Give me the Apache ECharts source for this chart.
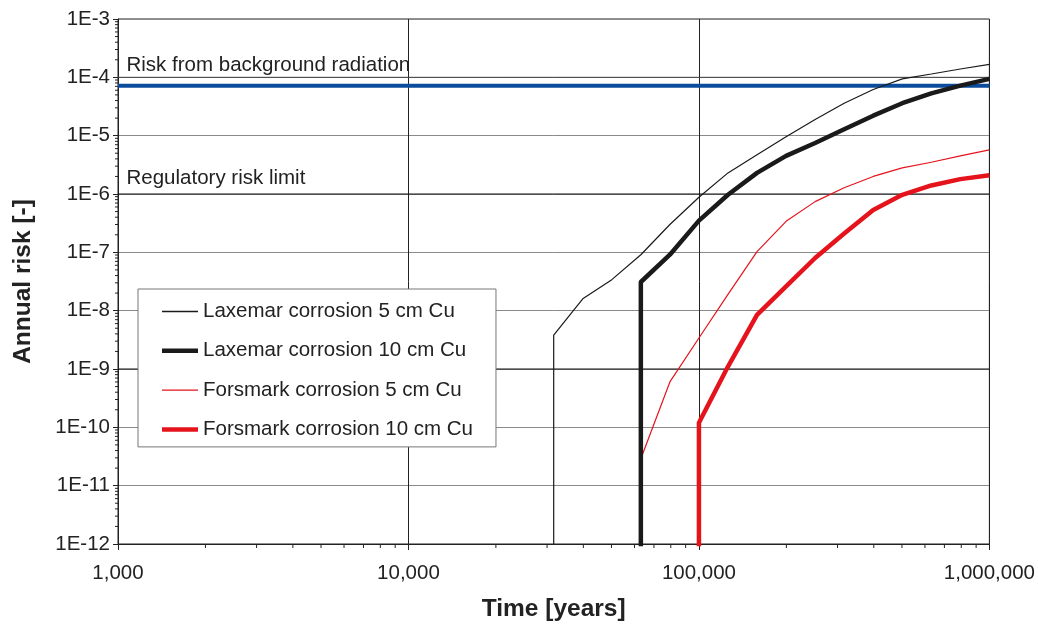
<!DOCTYPE html>
<html>
<head>
<meta charset="utf-8">
<script src="https://cdn.jsdelivr.net/npm/echarts@6/dist/echarts.min.js"></script>
<style>
  html, body { margin: 0; padding: 0; background: #ffffff; }
  #chart { width: 1038px; height: 628px; }
</style>
</head>
<body>
<div id="chart"></div>
<script>
// ---------- data ----------
const years = [31623, 39811, 50119, 63096, 79433, 100000, 125893, 158489, 199526,
               251189, 316228, 398107, 501187, 630957, 794328, 1000000];
const belowAxis = 1e-15; // effectively zero risk (below plotted range)

const laxemar5 = [3.8e-9, 1.6e-8, 3.4e-8, 9.1e-8, 3.0e-7, 8.8e-7, 2.3e-6, 4.7e-6, 9.6e-6,
                  1.9e-5, 3.6e-5, 6.2e-5, 9.4e-5, 1.14e-4, 1.39e-4, 1.67e-4];
const laxemar10 = [3.1e-8, 9.1e-8, 3.5e-7, 9.7e-7, 2.3e-6, 4.5e-6, 7.5e-6, 1.29e-5, 2.2e-5,
                   3.6e-5, 5.3e-5, 7.2e-5, 9.4e-5];
const forsmark5 = [2.9e-11, 6.0e-10, 3.4e-9, 1.9e-8, 1.03e-7, 3.4e-7, 7.4e-7, 1.28e-6, 2.0e-6,
                   2.8e-6, 3.5e-6, 4.5e-6, 5.7e-6];
const forsmark10 = [1.2e-10, 1.1e-9, 8.5e-9, 2.6e-8, 8.0e-8, 2.1e-7, 5.3e-7, 9.7e-7, 1.4e-6,
                    1.8e-6, 2.1e-6];

const seriesNames = ['Laxemar corrosion 5 cm Cu', 'Laxemar corrosion 10 cm Cu',
                     'Forsmark corrosion 5 cm Cu', 'Forsmark corrosion 10 cm Cu'];

const backgroundRisk = 7.2e-5;
const refLabels = ['Risk from background radiation', 'Regulatory risk limit'];
const refLabelLevels = [1e-4, 1e-6];
const darkGridLevels = [1e-4, 1e-6, 1e-9];

const xMinExp = 3, xMaxExp = 6;
const yMinExp = -12, yMaxExp = -3;
const xMin = Math.pow(10, xMinExp), xMax = Math.pow(10, xMaxExp);
const yMin = Math.pow(10, yMinExp), yMax = Math.pow(10, yMaxExp);
const minorMultipliers = [2, 3, 4, 5, 6, 7, 8, 9];

// ---------- helpers ----------
function build(values) {
  const xs = years.slice(years.length - values.length);
  const pts = [[xs[0], belowAxis]];
  values.forEach((v, i) => pts.push([xs[i], v]));
  return pts;
}
function minorTicks(loExp, hiExp) {
  const out = [];
  for (let e = loExp; e < hiExp; e++) {
    const d = Math.pow(10, e);
    minorMultipliers.forEach(m => out.push(d * m));
  }
  return out;
}
const xMinor = minorTicks(xMinExp, xMaxExp).map(v => [v, yMin]);
const yMinor = minorTicks(yMinExp, yMaxExp).map(v => [xMin, v]);

function tickRenderer(dx, dy) {
  return function (params, api) {
    const p = api.coord([api.value(0), api.value(1)]);
    return {
      type: 'line',
      shape: { x1: p[0], y1: p[1], x2: p[0] + dx, y2: p[1] + dy },
      style: { stroke: '#222', lineWidth: 1 }
    };
  };
}
function fmtThousands(v) {
  return String(Math.round(v)).replace(/\B(?=(\d{3})+(?!\d))/g, ',');
}

const FONT = 'Liberation Sans, Arial, Helvetica, sans-serif';
const TXT = '#222';
const labelLift = [1, 5];       // px between reference line and text bottom
const darkGridColors = ['#444', '#111', '#111'];

const thinIcon = 'path://M0,0H36V1.3H0Z';
const thickIcon = 'path://M0,0H36V4.5H0Z';

const chart = echarts.init(document.getElementById('chart'), null, { renderer: 'canvas' });

const refLineSeries = darkGridLevels.map((v, i) => ({
  name: 'ref' + i, type: 'line', silent: true, symbol: 'none', z: 1,
  data: [[xMin, v], [xMax, v]],
  lineStyle: { color: darkGridColors[i], width: 1 }
}));

const option = {
  animation: false,
  backgroundColor: '#ffffff',
  textStyle: { fontFamily: FONT },
  grid: {
    left: 118, right: 48, top: 19, bottom: 84,
    show: true, borderColor: '#222', borderWidth: 1, backgroundColor: 'transparent'
  },
  legend: {
    data: [
      { name: seriesNames[0], icon: thinIcon },
      { name: seriesNames[1], icon: thickIcon },
      { name: seriesNames[2], icon: thinIcon },
      { name: seriesNames[3], icon: thickIcon }
    ],
    orient: 'vertical',
    left: 138, top: 289,
    backgroundColor: '#ffffff',
    borderColor: '#777', borderWidth: 1,
    padding: [12, 23, 7, 24],
    itemWidth: 36, itemHeight: 14, itemGap: 18.3,
    symbolKeepAspect: true,
    textStyle: { fontFamily: FONT, fontSize: 20.5, color: TXT },
    selectedMode: false
  },
  xAxis: {
    type: 'log', logBase: 10, min: xMin, max: xMax, splitNumber: 3,
    name: 'Time [years]', nameLocation: 'middle', nameGap: 53,
    nameTextStyle: { fontFamily: FONT, fontSize: 24.5, fontWeight: 'bold', color: TXT },
    axisLine: { lineStyle: { color: '#222', width: 1 } },
    axisTick: { show: true, length: 6, lineStyle: { color: '#222' } },
    minorTick: { show: false },
    axisLabel: { fontFamily: FONT, fontSize: 20.5, color: TXT, margin: 19, formatter: fmtThousands },
    splitLine: { show: true, lineStyle: { color: '#222', width: 1 } }
  },
  yAxis: {
    type: 'log', logBase: 10, min: yMin, max: yMax, splitNumber: 9,
    name: 'Annual risk [-]', nameLocation: 'middle', nameGap: 82, nameRotate: 90,
    nameTextStyle: { fontFamily: FONT, fontSize: 24.5, fontWeight: 'bold', color: TXT },
    axisLine: { lineStyle: { color: '#222', width: 1 } },
    axisTick: { show: true, length: 5, lineStyle: { color: '#222' } },
    minorTick: { show: false },
    axisLabel: {
      fontFamily: FONT, fontSize: 20.5, color: TXT, margin: 8,
      formatter: v => '1E' + Math.round(Math.log10(v))
    },
    splitLine: { show: true, lineStyle: { color: '#8a8a8a', width: 1 } }
  },
  series: refLineSeries.concat([
    {
      name: 'refLabels', type: 'custom', silent: true, clip: false, z: 2,
      data: refLabelLevels.map((v, i) => [xMin, v, i]),
      renderItem: function (params, api) {
        const i = api.value(2);
        const p = api.coord([api.value(0), api.value(1)]);
        return {
          type: 'text',
          style: {
            x: p[0] + 8.5, y: p[1] - labelLift[i],
            text: refLabels[i],
            font: '20.5px ' + FONT,
            fill: TXT, align: 'left', verticalAlign: 'bottom'
          }
        };
      }
    },
    {
      name: 'background', type: 'line', silent: true, symbol: 'none', z: 3,
      data: [[xMin, backgroundRisk], [xMax, backgroundRisk]],
      lineStyle: { color: '#0b4d9c', width: 4 }
    },
    {
      name: seriesNames[0], type: 'line', symbol: 'none', clip: true, z: 5,
      data: build(laxemar5), color: '#1a1a1a',
      lineStyle: { color: '#1a1a1a', width: 1.2 }
    },
    {
      name: seriesNames[1], type: 'line', symbol: 'none', clip: true, z: 6,
      data: build(laxemar10), color: '#1a1a1a',
      lineStyle: { color: '#1a1a1a', width: 4.5 }
    },
    {
      name: seriesNames[2], type: 'line', symbol: 'none', clip: true, z: 5,
      data: build(forsmark5), color: '#e5131b',
      lineStyle: { color: '#e5131b', width: 1.2 }
    },
    {
      name: seriesNames[3], type: 'line', symbol: 'none', clip: true, z: 6,
      data: build(forsmark10), color: '#e5131b',
      lineStyle: { color: '#e5131b', width: 4.5 }
    },
    {
      name: 'xMinorTicks', type: 'custom', silent: true, clip: false, z: 4,
      data: xMinor, renderItem: tickRenderer(0, 4)
    },
    {
      name: 'yMinorTicks', type: 'custom', silent: true, clip: false, z: 4,
      data: yMinor, renderItem: tickRenderer(-3, 0)
    }
  ])
};
chart.setOption(option);
</script>
</body>
</html>
